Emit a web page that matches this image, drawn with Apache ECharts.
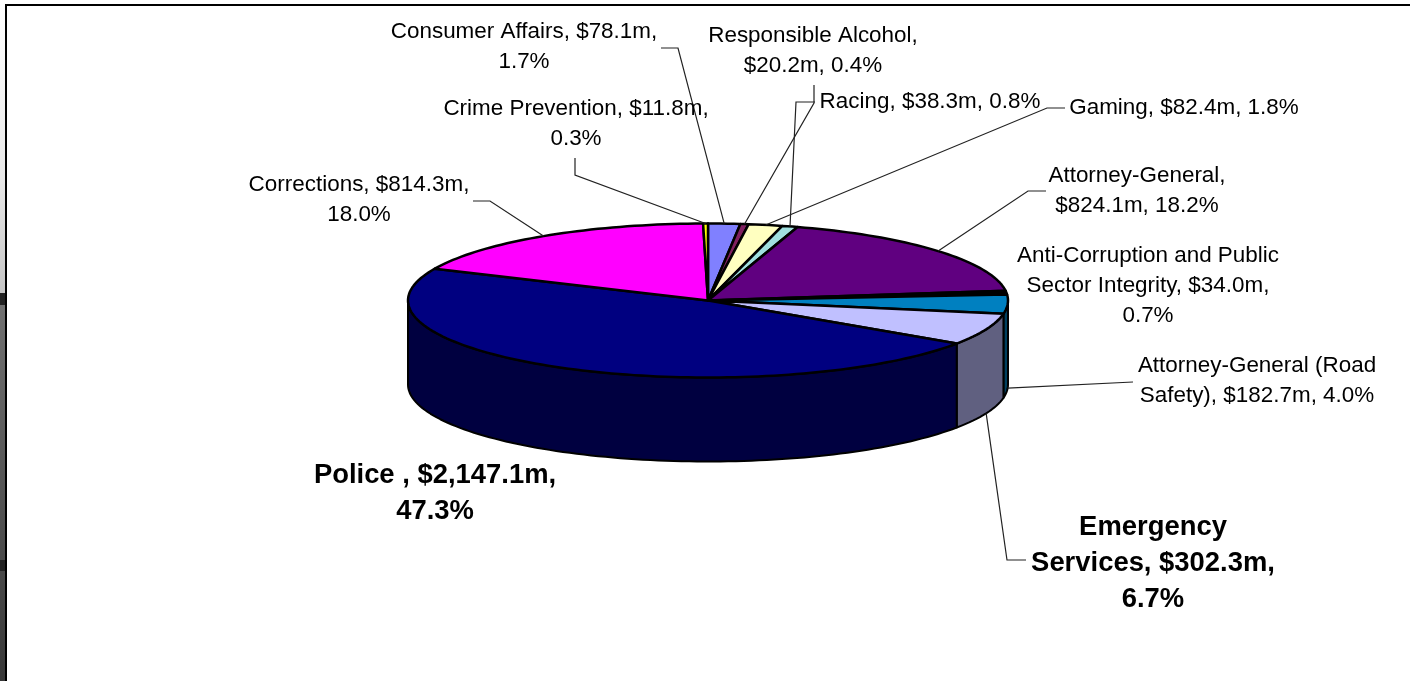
<!DOCTYPE html>
<html>
<head>
<meta charset="utf-8">
<style>html,body{margin:0;padding:0;background:#fff}#c{width:1410px;height:681px}</style>
<script src="https://cdn.jsdelivr.net/npm/echarts@6/dist/echarts.min.js"></script>
</head>
<body>
<div id="c"></div>
<script>
// ---- data (clockwise from the top of the pie) ----
const categories = ['Consumer Affairs','Responsible Alcohol','Gaming','Racing','Attorney-General',
  'Anti-Corruption and Public Sector Integrity','Attorney-General (Road Safety)','Emergency Services',
  'Police','Corrections','Crime Prevention'];
const amounts = [78.1,20.2,82.4,38.3,824.1,34.0,182.7,302.3,2147.1,814.3,11.8];
const labelTexts = [
  'Consumer Affairs, $78.1m,\n1.7%',
  'Responsible Alcohol,\n$20.2m, 0.4%',
  'Gaming, $82.4m, 1.8%',
  'Racing, $38.3m, 0.8%',
  'Attorney-General,\n$824.1m, 18.2%',
  'Anti-Corruption and Public\nSector Integrity, $34.0m,\n0.7%',
  'Attorney-General (Road\nSafety), $182.7m, 4.0%',
  'Emergency\nServices, $302.3m,\n6.7%',
  'Police , $2,147.1m,\n47.3%',
  'Corrections, $814.3m,\n18.0%',
  'Crime Prevention, $11.8m,\n0.3%'
];
// ---- styling ----
const topColors = ['#8080FF','#802060','#FFFFC0','#A0E0E0','#600080','#000000','#0080C0','#C0C0FF','#000080','#FF00FF','#FFFF00'];
const wallColors = ['#404080','#401030','#808060','#507070','#300040','#003040','#004060','#606080','#000040','#800080','#808000'];
const boldFlags = [0,0,0,0,0,0,0,1,1,0,0];
const labelCentres = [[524,47],[813,51],[1184,108],[930,102],[1137,191],[1148,286],[1257,381],[1153,564],[435,494],[359,200],[576,124]];
// leader polylines: elbow points from the label; the last point is on the pie rim, derived from the slice
const leaderElbows = [
  [[661,48],[678,48]],
  [[814,85],[814,103]],
  [[1065,108],[1047,108]],
  [[815,102],[796,102]],
  [[1046,191],[1028,191]],
  null,
  [[1133,382]],
  [[1026,560],[1007,560]],
  null,
  [[473,201],[490,201]],
  [[575,158],[575,175]]
];
const CX = 708, CY = 300.5, RX = 300, RY = 77, DEPTH = 84;
const total = amounts.reduce((a,b)=>a+b,0);
const cum = []; amounts.reduce((a,b,i)=>{cum[i]=a;return a+b;},0);
const rim = (deg,dy) => {const r=deg*Math.PI/180;return [CX+RX*Math.sin(r),CY-RY*Math.cos(r)+(dy||0)];};
const angles = i => [cum[i]/total*360,(cum[i]+amounts[i])/total*360];

function arc(a,b,dy){const n=Math.max(2,Math.ceil(Math.abs(b-a)/1.5));const p=[];
  for(let k=0;k<=n;k++)p.push(rim(a+(b-a)*k/n,dy));return p;}

function renderWall(params,api){
  const i=params.dataIndex; const [a,b]=angles(i);
  const s=Math.max(a,90), e=Math.min(b,270);
  if(e<=s) return {type:'group',children:[]};
  return {type:'polygon',shape:{points:arc(s,e,0).concat(arc(e,s,DEPTH))},
    style:{fill:wallColors[i],stroke:'#000',lineWidth:2,lineJoin:'round'}};
}
function renderTop(params,api){
  const i=params.dataIndex; const [a,b]=angles(i);
  return {type:'polygon',shape:{points:[[CX,CY]].concat(arc(a,b,0))},
    style:{fill:topColors[i],stroke:'#000',lineWidth:2.5,lineJoin:'round'}};
}
function renderLabel(params,api){
  const i=params.dataIndex; const [a,b]=angles(i); const mid=(a+b)/2;
  const kids=[];
  const bold=boldFlags[i];
  kids.push({type:'text',x:labelCentres[i][0],y:labelCentres[i][1],scaleX:bold?1.015:1.02,
    style:{text:labelTexts[i],fill:'#000',align:'center',verticalAlign:'middle',
      font:(bold?'bold 27px':'22px')+' "Liberation Sans",Arial,sans-serif',
      lineHeight:bold?36:30}});
  if(leaderElbows[i]){
    const onWall = mid>90&&mid<270;
    kids.push({type:'polyline',shape:{points:leaderElbows[i].concat([rim(mid,onWall?DEPTH:0)])},
      style:{fill:null,stroke:'#222',lineWidth:1.2}});
  }
  return {type:'group',children:kids};
}
const rows = amounts.map((v,i)=>({name:categories[i],value:[v]}));
const chart = echarts.init(document.getElementById('c'),null,{renderer:'canvas'});
chart.setOption({
  animation:false,
  backgroundColor:'#fff',
  graphic:[
    {type:'rect',z:0,shape:{x:0,y:0,width:5,height:295},style:{fill:{type:'linear',x:0,y:0,x2:0,y2:1,
      colorStops:[{offset:0,color:'#ffffff'},{offset:.6,color:'#e8e8e8'},{offset:1,color:'#c4c4c4'}]}}},
    {type:'rect',z:0,shape:{x:0,y:293,width:5,height:12},style:{fill:'#222'}},
    {type:'rect',z:0,shape:{x:0,y:305,width:5,height:376},style:{fill:{type:'linear',x:0,y:0,x2:0,y2:1,
      colorStops:[{offset:0,color:'#707070'},{offset:1,color:'#383838'}]}}},
    {type:'rect',z:0,shape:{x:0,y:560,width:5,height:11},style:{fill:'#222'}},
    {type:'rect',z:1,shape:{x:5,y:4,width:2,height:677},style:{fill:'#000'}},
    {type:'rect',z:1,shape:{x:5,y:4,width:1405,height:2},style:{fill:'#000'}}
  ],
  series:[
    {type:'custom',coordinateSystem:'none',name:'walls',silent:true,z:2,data:rows,renderItem:renderWall},
    {type:'custom',coordinateSystem:'none',name:'tops',silent:true,z:3,data:rows,renderItem:renderTop},
    {type:'custom',coordinateSystem:'none',name:'labels',silent:true,z:4,data:rows,renderItem:renderLabel}
  ]
});
</script>
</body>
</html>
